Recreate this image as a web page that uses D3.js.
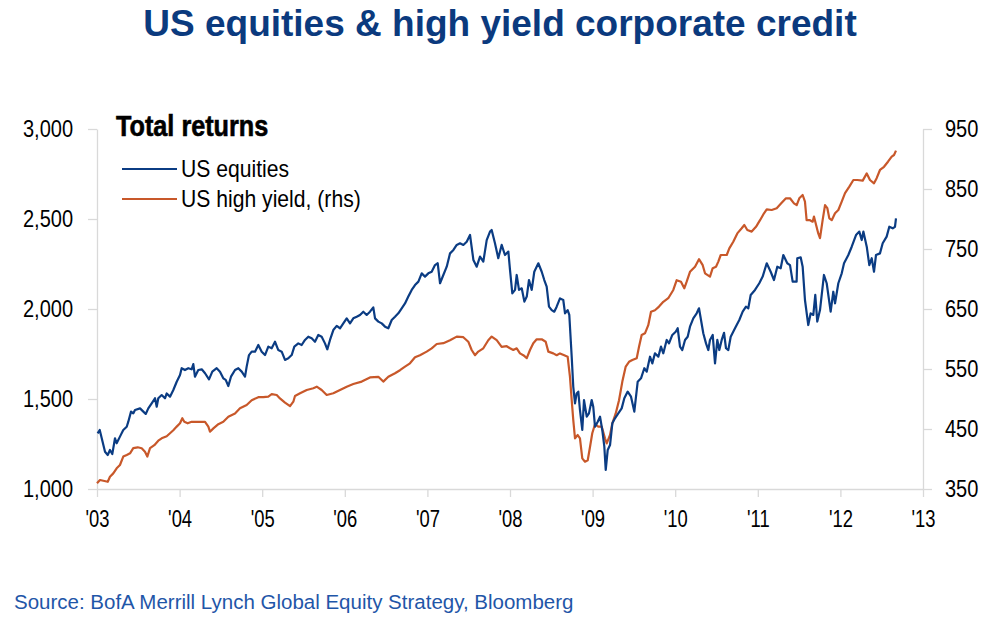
<!DOCTYPE html>
<html>
<head>
<meta charset="utf-8">
<script src="https://cdn.jsdelivr.net/npm/d3@7"></script>
<style>
  html, body { margin: 0; padding: 0; background: #ffffff; }
  svg { display: block; }
</style>
</head>
<body>
<svg id="chart" width="998" height="619"></svg>
<script>
// ---------- DATA ----------
const titleText = "US equities & high yield corporate credit";
const subtitleText = "Total returns";
const sourceText = "Source: BofA Merrill Lynch Global Equity Strategy, Bloomberg";
const seriesNames = ["US equities", "US high yield, (rhs)"];
const xTickYears = [2003, 2004, 2005, 2006, 2007, 2008, 2009, 2010, 2011, 2012, 2013];
const leftTicks = [1000, 1500, 2000, 2500, 3000];
const rightTicks = [350, 450, 550, 650, 750, 850, 950];

// [decimal year, index level] – US equities total return (lhs)
const usEquities = [
  [2003.008,1309],[2003.033,1328],[2003.097,1207],[2003.130,1189],[2003.157,1217],[2003.185,1194],
  [2003.218,1282],[2003.238,1254],[2003.278,1291],[2003.318,1328],[2003.360,1346],[2003.379,1374],
  [2003.412,1430],[2003.439,1420],[2003.460,1439],[2003.521,1448],[2003.561,1430],[2003.590,1417],
  [2003.621,1448],[2003.662,1476],[2003.702,1504],[2003.723,1457],[2003.742,1504],[2003.783,1522],
  [2003.823,1504],[2003.844,1531],[2003.884,1513],[2003.924,1550],[2003.965,1596],[2004.005,1633],
  [2004.025,1671],[2004.065,1661],[2004.105,1671],[2004.146,1665],[2004.166,1694],[2004.186,1624],
  [2004.226,1661],[2004.268,1665],[2004.308,1643],[2004.356,1609],[2004.396,1652],[2004.449,1671],
  [2004.489,1652],[2004.529,1615],[2004.558,1606],[2004.590,1572],[2004.622,1624],[2004.671,1661],
  [2004.711,1671],[2004.752,1652],[2004.792,1624],[2004.812,1680],[2004.840,1744],[2004.873,1763],
  [2004.913,1763],[2004.953,1800],[2004.994,1763],[2005.034,1744],[2005.074,1791],[2005.115,1782],
  [2005.155,1818],[2005.195,1772],[2005.236,1763],[2005.276,1717],[2005.316,1726],[2005.357,1744],
  [2005.389,1791],[2005.437,1809],[2005.478,1800],[2005.518,1828],[2005.558,1846],[2005.599,1837],
  [2005.639,1818],[2005.679,1856],[2005.720,1846],[2005.760,1809],[2005.788,1776],[2005.821,1828],
  [2005.861,1883],[2005.902,1906],[2005.942,1893],[2005.982,1920],[2006.023,1948],[2006.063,1920],
  [2006.103,1948],[2006.144,1957],[2006.184,1967],[2006.224,1985],[2006.265,1967],[2006.305,1985],
  [2006.345,2009],[2006.366,1948],[2006.406,1930],[2006.447,1920],[2006.487,1902],[2006.527,1893],
  [2006.568,1939],[2006.608,1957],[2006.648,1976],[2006.689,2004],[2006.729,2031],[2006.769,2069],
  [2006.810,2106],[2006.850,2133],[2006.891,2152],[2006.931,2198],[2006.971,2180],[2007.011,2198],
  [2007.052,2207],[2007.092,2244],[2007.125,2254],[2007.153,2143],[2007.193,2189],[2007.234,2235],
  [2007.274,2309],[2007.315,2328],[2007.355,2356],[2007.395,2365],[2007.435,2356],[2007.476,2374],
  [2007.516,2411],[2007.557,2272],[2007.597,2235],[2007.637,2291],[2007.677,2263],[2007.718,2383],
  [2007.758,2430],[2007.778,2439],[2007.818,2365],[2007.858,2282],[2007.899,2356],[2007.939,2300],
  [2007.980,2319],[2008.000,2217],[2008.028,2087],[2008.061,2106],[2008.081,2189],[2008.109,2106],
  [2008.142,2115],[2008.174,2041],[2008.203,2069],[2008.230,2161],[2008.263,2106],[2008.294,2207],
  [2008.343,2254],[2008.384,2207],[2008.415,2161],[2008.444,2124],[2008.472,2013],[2008.505,1994],
  [2008.536,1985],[2008.565,2013],[2008.605,2059],[2008.645,2050],[2008.666,1976],[2008.698,1994],
  [2008.718,1967],[2008.747,1735],[2008.766,1568],[2008.787,1476],[2008.807,1531],[2008.827,1541],
  [2008.847,1439],[2008.875,1328],[2008.896,1494],[2008.929,1402],[2008.956,1420],[2008.989,1494],
  [2009.008,1457],[2009.029,1346],[2009.062,1374],[2009.090,1402],[2009.117,1328],[2009.142,1235],
  [2009.159,1106],[2009.183,1217],[2009.211,1244],[2009.239,1365],[2009.271,1393],[2009.311,1420],
  [2009.352,1448],[2009.384,1504],[2009.425,1541],[2009.465,1513],[2009.505,1430],[2009.546,1596],
  [2009.586,1615],[2009.626,1671],[2009.655,1652],[2009.695,1735],[2009.723,1698],[2009.755,1754],
  [2009.796,1735],[2009.828,1791],[2009.856,1754],[2009.897,1828],[2009.925,1809],[2009.965,1856],
  [2010.006,1874],[2010.030,1893],[2010.058,1791],[2010.086,1772],[2010.119,1828],[2010.151,1846],
  [2010.179,1902],[2010.219,1948],[2010.260,1976],[2010.288,2004],[2010.340,1865],[2010.373,1809],
  [2010.401,1772],[2010.421,1828],[2010.454,1856],[2010.482,1698],[2010.510,1828],[2010.534,1772],
  [2010.563,1828],[2010.591,1868],[2010.615,1782],[2010.643,1772],[2010.672,1846],[2010.724,1893],
  [2010.776,1939],[2010.817,1985],[2010.857,2013],[2010.885,2004],[2010.914,2078],[2010.966,2106],
  [2011.018,2143],[2011.059,2180],[2011.108,2254],[2011.156,2207],[2011.196,2161],[2011.236,2235],
  [2011.277,2226],[2011.309,2300],[2011.357,2254],[2011.390,2244],[2011.422,2152],[2011.470,2152],
  [2011.478,2282],[2011.519,2287],[2011.543,2235],[2011.571,2050],[2011.611,1911],[2011.640,1976],
  [2011.672,1967],[2011.696,2078],[2011.720,1930],[2011.753,1994],[2011.801,2189],[2011.834,2143],
  [2011.882,1985],[2011.914,2096],[2011.935,2031],[2011.975,2143],[2012.016,2198],[2012.044,2254],
  [2012.096,2300],[2012.137,2346],[2012.189,2411],[2012.229,2430],[2012.258,2383],[2012.278,2430],
  [2012.319,2346],[2012.350,2244],[2012.379,2282],[2012.407,2207],[2012.431,2300],[2012.479,2309],
  [2012.512,2365],[2012.560,2402],[2012.592,2457],[2012.633,2448],[2012.661,2457],[2012.673,2504]
];

// [decimal year, index level] – US high yield total return (rhs)
const usHighYield = [
  [2003.000,359.5],[2003.036,365],[2003.130,362],[2003.157,370.5],[2003.197,376],[2003.238,384.5],
  [2003.278,390],[2003.318,404],[2003.360,406.7],[2003.400,409.5],[2003.439,418],[2003.493,419.5],
  [2003.541,418],[2003.581,412],[2003.609,404],[2003.642,418],[2003.694,423],[2003.742,430.5],
  [2003.783,434.5],[2003.844,438],[2003.884,443],[2003.924,448],[2003.965,454],[2004.005,459.5],
  [2004.033,468],[2004.057,462],[2004.098,459.5],[2004.146,462],[2004.226,462],[2004.308,462],
  [2004.348,454],[2004.368,445.5],[2004.409,451],[2004.469,458],[2004.529,462],[2004.590,470.5],
  [2004.671,476],[2004.731,484.5],[2004.812,490],[2004.873,498],[2004.953,503],[2005.013,503],
  [2005.074,504],[2005.115,508],[2005.176,506.7],[2005.215,501],[2005.276,494],[2005.337,488],
  [2005.377,495.5],[2005.397,505],[2005.458,509.5],[2005.539,515],[2005.619,518],[2005.660,520.5],
  [2005.720,515],[2005.781,506.7],[2005.861,509.5],[2005.942,515],[2006.023,520.5],[2006.103,525],
  [2006.205,529],[2006.305,536],[2006.406,537],[2006.447,531.7],[2006.466,529],[2006.527,537],
  [2006.608,543],[2006.668,548],[2006.729,554],[2006.789,559.5],[2006.850,569.5],[2006.910,573],
  [2006.991,579],[2007.052,584.5],[2007.113,591.7],[2007.193,593],[2007.274,598],[2007.355,604],
  [2007.435,603],[2007.495,595.5],[2007.536,581.7],[2007.576,573],[2007.616,579],[2007.677,584.5],
  [2007.737,598],[2007.778,604],[2007.839,598],[2007.899,587],[2007.960,588],[2008.000,584.5],
  [2008.040,581.7],[2008.081,584.5],[2008.121,576],[2008.161,573],[2008.203,568],[2008.242,581.7],
  [2008.282,593],[2008.323,599.5],[2008.384,599.5],[2008.432,595.5],[2008.464,579],[2008.524,576],
  [2008.565,573],[2008.605,576],[2008.657,573],[2008.698,570.5],[2008.726,537],[2008.747,498],
  [2008.766,465],[2008.787,434.5],[2008.820,440],[2008.847,434.5],[2008.875,401],[2008.908,395.5],
  [2008.941,398],[2008.969,420.5],[2008.996,443],[2009.029,458],[2009.069,454],[2009.110,454],
  [2009.150,434.5],[2009.171,426],[2009.211,440],[2009.239,459.5],[2009.280,476],[2009.320,498],
  [2009.360,529],[2009.401,554],[2009.441,562],[2009.481,565],[2009.534,568],[2009.562,587],
  [2009.594,606.7],[2009.634,609.5],[2009.674,623],[2009.707,645.5],[2009.755,648],[2009.804,654],
  [2009.856,662],[2009.916,668],[2009.977,681.7],[2010.018,698],[2010.070,695.5],[2010.110,684.5],
  [2010.139,695.5],[2010.179,712],[2010.240,720.5],[2010.288,733],[2010.333,723],[2010.361,709.5],
  [2010.421,704],[2010.454,718],[2010.494,720.5],[2010.522,729],[2010.551,740],[2010.624,740],
  [2010.655,751],[2010.703,762],[2010.752,776],[2010.805,784.5],[2010.837,790],[2010.873,781.7],
  [2010.926,779],[2010.978,787],[2011.027,798],[2011.075,809.5],[2011.108,816],[2011.168,815],
  [2011.229,818],[2011.289,827],[2011.341,834.5],[2011.390,834.5],[2011.438,826],[2011.471,823],
  [2011.502,834.5],[2011.543,840],[2011.571,829],[2011.591,798],[2011.632,798],[2011.664,795.5],
  [2011.680,804],[2011.696,795.5],[2011.732,776],[2011.753,768],[2011.785,798],[2011.814,823],
  [2011.842,818],[2011.866,801],[2011.895,798],[2011.935,809.5],[2011.975,815],[2012.016,829],
  [2012.056,843],[2012.108,854],[2012.157,865],[2012.205,865],[2012.270,864],[2012.319,876],
  [2012.358,865],[2012.407,859.5],[2012.439,868],[2012.479,881.7],[2012.528,887],[2012.576,895.5],
  [2012.621,904],[2012.649,906.7],[2012.673,914]
];

// ---------- STYLE / LAYOUT ----------
const plot = { left: 97, right: 923, top: 129, bottom: 489 };
const blue = "#0b3c83";
const orange = "#c8582a";
const axisGrey = "#d9d9d9";
const font = "'Liberation Sans', Arial, sans-serif";

const svg = d3.select("#chart");

// horizontally condense a text element around its anchor point
function condense(sel, s) {
  sel.each(function () {
    const t = d3.select(this);
    const x0 = +t.attr("x") || 0;
    t.attr("transform", `translate(${x0 * (1 - s)},0) scale(${s},1)`);
  });
}

const x = d3.scaleLinear().domain([2003, 2013]).range([plot.left, plot.right]);
const yL = d3.scaleLinear().domain([1000, 3000]).range([plot.bottom, plot.top]);
const yR = d3.scaleLinear().domain([350, 950]).range([plot.bottom, plot.top]);

// Title
svg.append("text")
  .attr("x", 500).attr("y", 36)
  .attr("text-anchor", "middle")
  .attr("font-family", font)
  .attr("font-weight", "bold")
  .attr("font-size", 37)
  .attr("fill", "#0b3a7e")
  .text(titleText);

// Axes
function styleAxis(g, s) {
  g.selectAll("path.domain").attr("stroke", axisGrey).attr("stroke-width", 1.3);
  g.selectAll(".tick line").attr("stroke", axisGrey).attr("stroke-width", 1.3);
  const txt = g.selectAll(".tick text")
    .attr("font-family", font)
    .attr("font-size", 23)
    .attr("fill", "#000");
  condense(txt, s);
}

const gx = svg.append("g")
  .attr("transform", `translate(0,${plot.bottom})`)
  .call(d3.axisBottom(x).tickValues(xTickYears).tickSize(8).tickSizeOuter(0).tickPadding(14)
    .tickFormat(d => "'" + String(d % 100).padStart(2, "0")));
styleAxis(gx, 0.8);

const gl = svg.append("g")
  .attr("transform", `translate(${plot.left},0)`)
  .call(d3.axisLeft(yL).tickValues(leftTicks).tickSize(9).tickSizeOuter(0).tickPadding(15)
    .tickFormat(d3.format(",")));
styleAxis(gl, 0.87);

const gr = svg.append("g")
  .attr("transform", `translate(${plot.right},0)`)
  .call(d3.axisRight(yR).tickValues(rightTicks).tickSize(9).tickSizeOuter(0).tickPadding(13));
styleAxis(gr, 0.87);

// Lines
const lineL = d3.line().x(d => x(d[0])).y(d => yL(d[1]));
const lineR = d3.line().x(d => x(d[0])).y(d => yR(d[1]));

svg.append("path").datum(usHighYield)
  .attr("fill", "none").attr("stroke", orange).attr("stroke-width", 2.2)
  .attr("stroke-linejoin", "round").attr("d", lineR);

svg.append("path").datum(usEquities)
  .attr("fill", "none").attr("stroke", blue).attr("stroke-width", 2.2)
  .attr("stroke-linejoin", "round").attr("d", lineL);

// Legend block
const sub = svg.append("text")
  .attr("x", 116).attr("y", 136)
  .attr("font-family", font).attr("font-weight", "bold")
  .attr("font-size", 29).attr("fill", "#000")
  .attr("stroke", "#000").attr("stroke-width", 0.6)
  .text(subtitleText);
condense(sub, 0.87);

const legendColors = [blue, orange];
seriesNames.forEach((name, i) => {
  const cy = 169 + i * 30;
  svg.append("line")
    .attr("x1", 122).attr("x2", 177).attr("y1", cy).attr("y2", cy)
    .attr("stroke", legendColors[i]).attr("stroke-width", 2.2);
  const lt = svg.append("text")
    .attr("x", 181).attr("y", cy + 8)
    .attr("font-family", font).attr("font-size", 23).attr("fill", "#000")
    .text(name);
  condense(lt, 0.92);
});

// Source
svg.append("text")
  .attr("x", 14).attr("y", 609)
  .attr("font-family", font).attr("font-size", 20.5)
  .attr("fill", "#1f56a8")
  .text(sourceText);
</script>
</body>
</html>
